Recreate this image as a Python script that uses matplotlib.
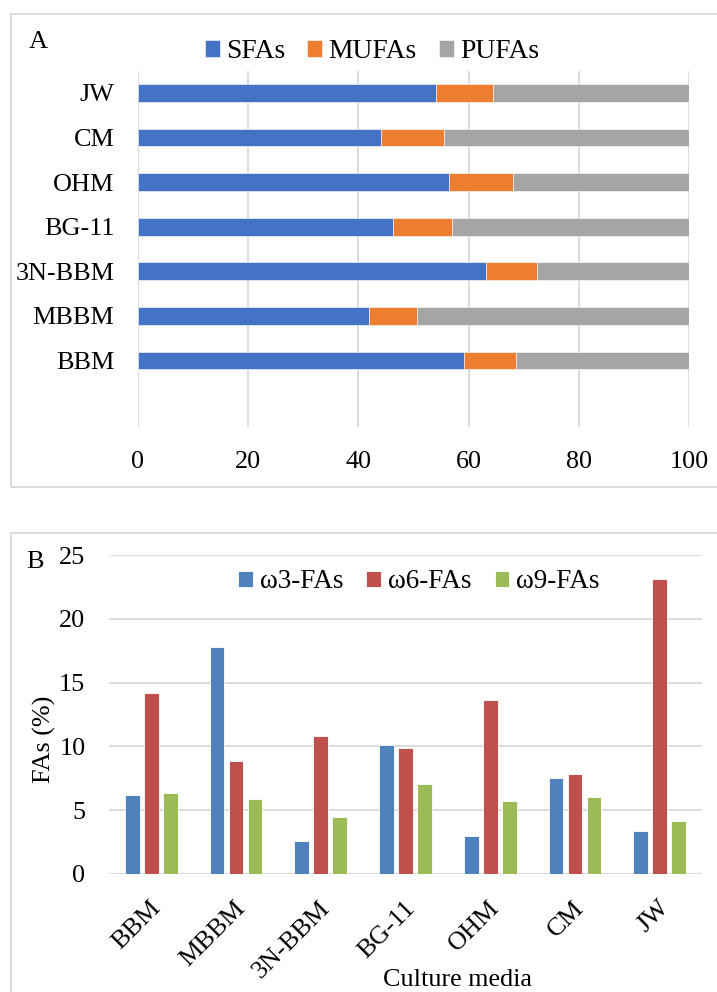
import matplotlib
matplotlib.use("Agg")
import matplotlib.pyplot as plt
import matplotlib.transforms as mtransforms
from matplotlib.patches import Rectangle
import numpy as np

plt.rcParams['font.family'] = ['Liberation Serif', 'DejaVu Serif']

# Panel A: fatty acid classes (% of total FAs)
media_a = ["BBM", "MBBM", "3N-BBM", "BG-11", "OHM", "CM", "JW"]
sfa = [59.1, 41.9, 63.1, 46.2, 56.4, 44.1, 54.1]
mufa = [9.5, 8.7, 9.3, 10.8, 11.6, 11.4, 10.3]
pufa = [31.4, 49.4, 27.6, 43.0, 32.0, 44.5, 35.6]
classes = ["SFAs", "MUFAs", "PUFAs"]
colors_a = ["#4472C4", "#ED7D31", "#A5A5A5"]

# Panel B: omega fatty acids (%)
media_b = ["BBM", "MBBM", "3N-BBM", "BG-11", "OHM", "CM", "JW"]
w3 = [6.2, 17.8, 2.6, 10.1, 3.0, 7.5, 3.4]
w6 = [14.2, 8.85, 10.85, 9.85, 13.6, 7.85, 23.1]
w9 = [6.35, 5.85, 4.5, 7.05, 5.75, 6.0, 4.15]
omegas = ["ω3-FAs", "ω6-FAs", "ω9-FAs"]
colors_b = ["#4F81BD", "#C0504D", "#9BBB59"]

W, H = 717, 992
fig = plt.figure(figsize=(W / 100, H / 100), dpi=100)

grid_c = "#D9D9D9"
fs = 18.8

# panel frames
for y0, y1 in [(14, 487), (533, 1000)]:
    fig.patches.append(Rectangle((11 / W, 1 - y1 / H), (730 - 11) / W, (y1 - y0) / H,
                                 transform=fig.transFigure, fill=False,
                                 edgecolor=grid_c, linewidth=1.3, zorder=0))

# ---------- Panel A ----------
axA = fig.add_axes([138 / W, 1 - 427 / H, (689 - 138) / W, (427 - 71) / H])
ypos = np.arange(len(media_a))
left = np.zeros(len(media_a))
for vals, lab, c in zip([sfa, mufa, pufa], classes, colors_a):
    axA.barh(ypos, vals, left=left, height=0.40, color=c, label=lab,
             edgecolor="white", linewidth=0.4, zorder=3)
    left = left + np.array(vals)
axA.set_xlim(0, 100)
axA.set_ylim(-1.49, 6.49)
axA.set_xticks([0, 20, 40, 60, 80, 100])
axA.set_yticks(ypos)
axA.set_yticklabels(media_a)
axA.grid(axis="x", color=grid_c, linewidth=1.3, zorder=0)
axA.set_axisbelow(True)
for s in axA.spines.values():
    s.set_visible(False)
axA.tick_params(axis="both", length=0, labelsize=fs)
axA.tick_params(axis="x", pad=17)
axA.tick_params(axis="y", pad=17)
legA = fig.legend(*axA.get_legend_handles_labels(), loc="center",
                  bbox_to_anchor=(372 / W, 1 - 52 / H), ncol=3, frameon=False,
                  fontsize=19.8, handlelength=0.55, handleheight=0.55,
                  handletextpad=0.22, columnspacing=0.8, borderpad=0)
fig.text(38 / W, 1 - 42 / H, "A", fontsize=19, ha="center", va="center")

# ---------- Panel B ----------
axB = fig.add_axes([109 / W, 1 - 874 / H, (702 - 109) / W, (874 - 555) / H])
x = np.arange(len(media_b))
bw = 0.174
off = 0.224
for i, (vals, lab, c) in enumerate(zip([w3, w6, w9], omegas, colors_b)):
    axB.bar(x + (i - 1) * off, vals, width=bw, color=c, label=lab,
            edgecolor="white", linewidth=0.6, zorder=3)
axB.set_xlim(-0.5, len(media_b) - 0.5)
axB.set_ylim(0, 25)
axB.set_yticks([0, 5, 10, 15, 20, 25])
axB.grid(axis="y", color=grid_c, linewidth=1.3, zorder=0)
axB.set_axisbelow(True)
for s in axB.spines.values():
    s.set_visible(False)
axB.axhline(0, color=grid_c, linewidth=1.6, zorder=2)
axB.tick_params(axis="both", length=0, labelsize=fs)
axB.tick_params(axis="y", pad=17)
axB.set_xticks(x)
axB.set_xticklabels(media_b, rotation=45, ha="right", va="center",
                    rotation_mode="anchor")
axB.tick_params(axis="x", pad=22)
shift = mtransforms.ScaledTranslation(6 / 100, 0, fig.dpi_scale_trans)
for t in axB.get_xticklabels():
    t.set_transform(t.get_transform() + shift)
axB.set_ylabel("FAs (%)", fontsize=fs)
axB.yaxis.set_label_coords(56 / W, 1 - 739 / H, transform=fig.transFigure)
fig.text(457 / W, 1 - 980 / H, "Culture media", fontsize=fs, ha="center", va="center")
legB = fig.legend(*axB.get_legend_handles_labels(), loc="center",
                  bbox_to_anchor=(419 / W, 1 - 582 / H), ncol=3, frameon=False,
                  fontsize=19.5, handlelength=0.55, handleheight=0.55,
                  handletextpad=0.25, columnspacing=0.85, borderpad=0)
fig.text(35 / W, 1 - 562 / H, "B", fontsize=19, ha="center", va="center")

fig.savefig("out.png", dpi=100)
